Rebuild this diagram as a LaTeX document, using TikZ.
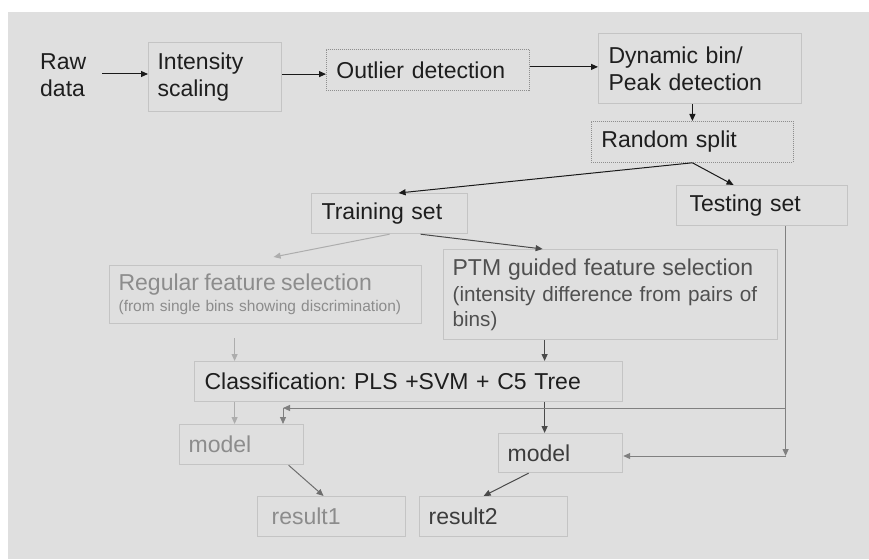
\documentclass[tikz,border=0pt]{standalone}
\usepackage{fontspec}
\setmainfont{Liberation Sans}
\usetikzlibrary{arrows.meta}
\frenchspacing
\definecolor{bgc}{HTML}{DFDFDF}
\definecolor{boxline}{HTML}{C4C4C4}
\definecolor{dotline}{HTML}{8E8E8E}
\definecolor{txtk}{HTML}{1E1E1E}
\definecolor{txtptm}{HTML}{505050}
\definecolor{txtl}{HTML}{8C8C8C}
\definecolor{txtd}{HTML}{3C3C3C}
\definecolor{ark}{HTML}{1A1A1A}
\definecolor{ard}{HTML}{4A4A4A}
\definecolor{arg}{HTML}{808080}
\definecolor{arl}{HTML}{ADADAD}
\definecolor{arm}{HTML}{6E6E6E}
\newcommand{\mainsz}{\fontsize{23}{27}\selectfont}
\newcommand{\ptmsz}{\fontsize{20.7}{24.5}\selectfont}
\newcommand{\smallsz}{\fontsize{15.5}{18}\selectfont}
\tikzset{
  stepbox/.style={draw=boxline, line width=1.2pt, rectangle, anchor=north west,
    inner xsep=9pt, inner ysep=0pt, align=left, font=\mainsz, text=txtk},
  dotbox/.style={stepbox, draw=dotline, line width=0.8pt, dash pattern=on 1pt off 1pt},
  arrbase/.style={line width=1pt, -{Triangle[length=7pt,width=6pt]}},
  arrk/.style={arrbase, draw=ark},
  arrd/.style={arrbase, draw=ard},
  arrg/.style={arrbase, draw=arg},
  arrl/.style={arrbase, draw=arl},
  arrm/.style={arrbase, draw=arm},
}
\begin{document}
\begin{tikzpicture}[x=1pt,y=-1pt]
\useasboundingbox (0,0) rectangle (869,559);
\fill[bgc] (8,12) rectangle (869,559);

\node[anchor=west, inner sep=0pt, align=left, font=\mainsz, text=txtk] (raw) at (40,75) {Raw\\data};
\node[stepbox, minimum width=133pt, minimum height=69pt, text width=115pt] (int) at (148,42) {Intensity\\scaling};
\node[dotbox, minimum width=203pt, minimum height=41pt, text width=183pt, inner xsep=10pt] (out) at (326,49) {Outlier detection};
\node[stepbox, minimum width=203pt, minimum height=70pt, text width=183pt, inner xsep=10pt] (dyn) at (598,33) {Dynamic bin/\\Peak detection};
\node[dotbox, minimum width=202pt, minimum height=41pt, text width=182pt, inner xsep=10pt] (rnd) at (591,121) {Random split};
\node[stepbox, minimum width=156pt, minimum height=40pt, text width=136pt, inner xsep=10pt] (train) at (311,193) {Training set};
\node[stepbox, minimum width=171pt, minimum height=40pt, text width=145pt, inner xsep=13pt] (test) at (676,185) {Testing set};
\node[stepbox, minimum width=312pt, minimum height=58pt, text width=294pt, font=\smallsz, text=txtl] (reg) at (109,265)
  {{\mainsz Regular feature selection}\\[3pt](from single bins showing discrimination)};
\node[stepbox, minimum width=334pt, minimum height=90pt, text width=316pt, font=\ptmsz, text=txtptm] (ptm) at (443,249)
  {{\mainsz PTM guided feature selection}\\[1.5pt](intensity difference from pairs of\\bins)};
\node[stepbox, minimum width=428pt, minimum height=40pt, text width=408pt, inner xsep=10pt] (cls) at (194,361) {Classification: PLS +SVM + C5 Tree};
\node[stepbox, minimum width=124pt, minimum height=40pt, text width=106pt, text=txtl] (m1) at (179,424) {model};
\node[stepbox, minimum width=124pt, minimum height=39pt, text width=106pt, text=txtd] (m2) at (498,433) {model};
\node[stepbox, minimum width=148pt, minimum height=40pt, text width=120pt, inner xsep=14pt, text=txtl] (r1) at (257,496) {result1};
\node[stepbox, minimum width=148pt, minimum height=40pt, text width=130pt, text=txtd] (r2) at (419,496) {result2};

\draw[arrk] ([xshift=16pt,yshift=1pt]raw.east) -- ([yshift=1pt]raw.east -| int.west);
\draw[arrk] ([yshift=3pt]int.east) -- ([yshift=3pt]int.east -| out.west);
\draw[arrk] ([yshift=3pt]out.east) -- ([yshift=3pt]out.east -| dyn.west);
\draw[arrk] (rnd.north |- dyn.south) -- (rnd.north);
\draw[arrk] (rnd.south) -- ([xshift=9pt]train.north);
\draw[arrk] (rnd.south) -- ([xshift=-28.5pt]test.north);
\draw[arrl] (train.south) -- ([xshift=8pt,yshift=8pt]reg.north);
\draw[arrd] ([xshift=31pt]train.south) -- ([xshift=-68pt]ptm.north);
\draw[arrd] ([xshift=-66pt]ptm.south) -- ([xshift=-66pt]ptm.south |- cls.north);
\draw[arrl] ([xshift=-31pt,yshift=-14pt]reg.south) -- ([xshift=-31pt]reg.south |- cls.north);
\draw[arrl] ([xshift=-7pt]m1.north |- cls.south) -- ([xshift=-7pt]m1.north);
\draw[arrd] ([xshift=-16pt]m2.north |- cls.south) -- ([xshift=-16pt]m2.north);

\coordinate (tA) at ([xshift=23.5pt]test.south);
\coordinate (corner1) at (283,408);
\coordinate (tB) at (tA |- 0,456);
\draw[arrg] (tA) |- (corner1);
\draw[arrg] (corner1) -- (corner1 |- m1.north);
\draw[arrg] (tA) -- (tB);
\draw[arrg] (tB) -- (tB -| m2.east);

\draw[arrm] ([xshift=47pt]m1.south) -- ([xshift=-8pt]r1.north);
\draw[arrd] ([xshift=-32pt]m2.south) -- ([xshift=-10pt]r2.north);
\end{tikzpicture}
\end{document}
